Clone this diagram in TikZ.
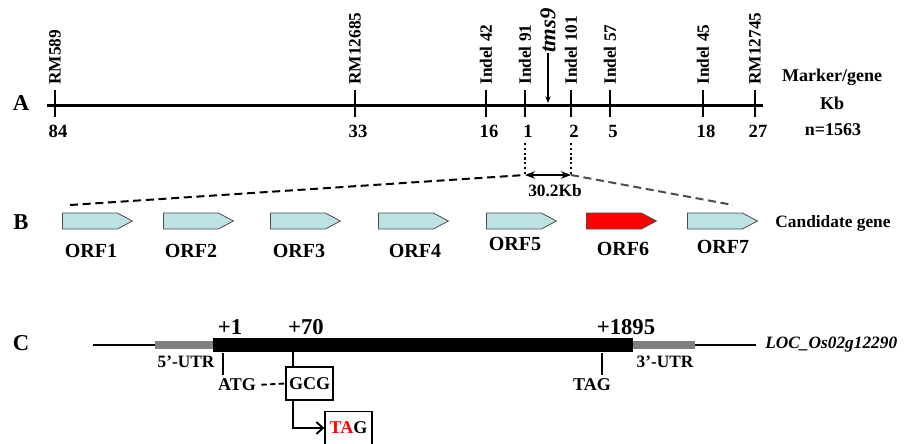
\documentclass[tikz,border=0pt]{standalone}
\usepackage{fontspec}
\setmainfont{Liberation Serif}
\usetikzlibrary{arrows.meta, shapes.symbols}
\definecolor{orfblue}{RGB}{190,226,228}
\definecolor{utrgray}{RGB}{128,128,128}

\begin{document}
\begin{tikzpicture}[
  x=0.75pt, y=-0.75pt,
  >={Stealth[]},
  panel/.style={inner sep=0pt, font=\fontsize{17}{19}\selectfont\bfseries},
  mlabel/.style={rotate=90, anchor=west, inner sep=0pt, font=\fontsize{13}{15}\selectfont\bfseries},
  kbnum/.style={inner sep=0pt, font=\fontsize{14}{16}\selectfont\bfseries},
  note/.style={inner sep=0pt, font=\fontsize{13.5}{15}\selectfont\bfseries},
  small/.style={inner sep=0pt, font=\fontsize{13}{15}\selectfont\bfseries},
  orf/.style={signal, signal to=east, signal pointer angle=56, minimum width=52.5pt, minimum height=12pt, inner sep=0pt, anchor=west, draw=black!70, line width=0.6pt},
  orflabel/.style={inner sep=0pt, font=\fontsize{15}{17}\selectfont\bfseries},
  seqpos/.style={inner sep=0pt, font=\fontsize{17}{19}\selectfont\bfseries},
  codon/.style={draw, line width=1.2pt, minimum width=35pt, minimum height=25pt, inner sep=0pt, font=\fontsize{13.5}{15}\selectfont\bfseries},
  axisline/.style={line width=2.25pt},
  tickline/.style={line width=1.9pt},
  stem/.style={line width=1.4pt},
  cutline/.style={line width=1.5pt, dash pattern=on 6pt off 3.5pt},
]
  \useasboundingbox (0,0) rectangle (906,443);

  % A: marker map
  \node[panel] (pA) at (21,103) {A};
  \draw[axisline] (47,105) -- (763,105);
  \foreach \x/\lab/\kb [count=\i] in {55/RM589/84, 355/RM12685/33, 486/Indel 42/16,
      525/Indel 91/1, 571/Indel 101/2, 610/Indel 57/5, 703/Indel 45/18, 755/RM12745/27}
  {
    \draw[tickline] (\x,90) -- (\x,117);
    \node[mlabel] (m\i) at (\x,85) {\lab};
    \node[kbnum] (k\i) at ({\x+3},131) {\kb};
  }
  \node[rotate=90, anchor=west, inner sep=0pt, font=\fontsize{17}{19}\selectfont\bfseries\itshape] (tms) at (548,53) {tms9};
  \coordinate (tmsloc) at (548,103);
  \draw[-{Stealth[length=5pt,width=4pt]}, line width=0.8pt] (tms) -- (tmsloc);
  \node[note] (mg) at (832,77) {Marker/gene};
  \node[note] (kb) at (832,103) {Kb};
  \node[note] (nn) at (833,130) {n=1563};

  % B: candidate region
  \node[panel] (pB) at (21,222) {B};
  \coordinate (d1) at (525,143);
  \coordinate (d2) at (571,143);
  \coordinate (z1) at (525,175);
  \coordinate (z2) at (571,175);
  \coordinate (zl) at (70,205);
  \coordinate (zr) at (733,205);
  \draw[dotted, line width=1.6pt] (d1) -- (z1);
  \draw[dotted, line width=1.6pt] (d2) -- (z2);
  \draw[<->, line width=1pt] (z1) -- (z2);
  \node[small] (span) at (555,191) {30.2Kb};
  \draw[cutline] (zl) -- (z1);
  \draw[cutline, black!70] (z2) -- (zr);
  \foreach \x/\c/\lx/\ly [count=\i] in {62/orfblue/91/251, 163/orfblue/191/251,
      270/orfblue/299/251, 378/orfblue/415/251, 486/orfblue/515/244,
      586/red/623/249, 687/orfblue/723/247}
  {
    \node[orf, fill=\c] (orf\i) at (\x,221) {};
    \node[orflabel] (l\i) at (\lx,\ly) {ORF\i};
  }
  \node[small] (cand) at (833,223) {Candidate gene};

  % C: gene structure
  \node[panel] (pC) at (21,343) {C};
  \draw[line width=1.5pt] (93,345) -- (155,345);
  \draw[utrgray, line width=6pt] (155,345) -- (213,345);
  \draw[line width=10.5pt] (213,345) -- (633,345);
  \draw[utrgray, line width=6pt] (633,345) -- (695,345);
  \draw[line width=1.5pt] (695,345) -- (756,345);
  \node[anchor=west, inner sep=0pt, font=\fontsize{13}{15}\selectfont\bfseries\itshape] (loc) at (765,345) {LOC\_Os02g12290};

  \node[seqpos] (p1) at (230,327) {+1};
  \node[seqpos] (p70) at (306,327) {+70};
  \node[seqpos] (p1895) at (626,327) {+1895};
  \node[small] (utr5) at (186,362) {5'-UTR};
  \node[small] (utr3) at (665,362) {3'-UTR};

  \draw[stem] (223,353) -- (223,375);
  \node[note] (atg) at (237,385) {ATG};
  \draw[stem] (602,353) -- (602,375);
  \node[note] (stop) at (592,385) {TAG};

  \node[codon] (gcg) at (309.5,383.5) {GCG};
  \node[codon] (tag) at (348.5,428) {{\color{red}TA}G};
  \coordinate (c70) at (293,352);
  \draw[stem] (c70) -- (c70 |- gcg.north);
  \draw[stem, dash pattern=on 4pt off 2.5pt, shorten <=4pt] (atg.east) -- (gcg.west);
  \draw[stem, -{Straight Barb[length=5pt,width=9pt]}] (c70 |- gcg.south) |- (tag.west);
\end{tikzpicture}
\end{document}
